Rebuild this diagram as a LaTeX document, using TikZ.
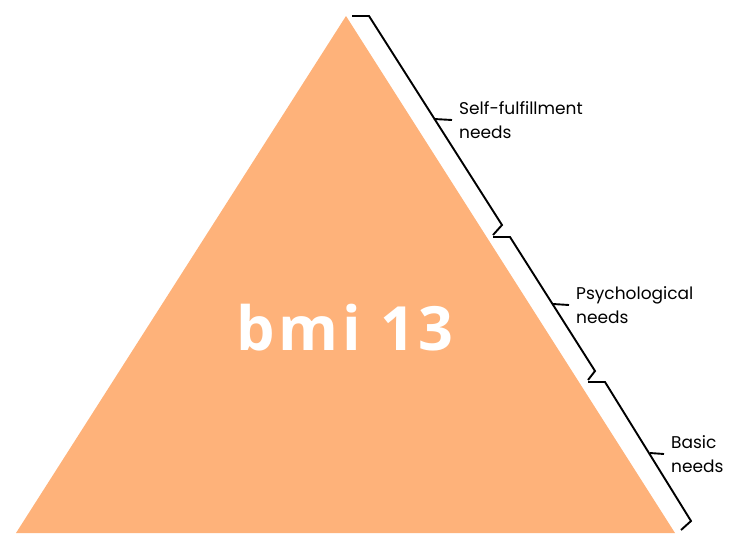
\documentclass[tikz,border=0pt]{standalone}
\usepackage{fontspec}
\setmainfont{Poppins}
\newfontfamily\bigfont[LetterSpace=6]{Open Sans}
\usetikzlibrary{positioning}
\definecolor{peach}{RGB}{254,178,122}
\tikzset{bracket/.style = {draw, line width=1.9pt, line join=miter}}
\tikzset{need/.style = {anchor=west, inner sep=0pt, align=left, font=\fontsize{17}{24}\selectfont}}
\tikzset{title/.style = {white, font=\bigfont\bfseries\fontsize{61}{61}\selectfont}}

\begin{document}
\begin{tikzpicture}[x=1pt, y=-1pt]
  \useasboundingbox (0,0) rectangle (735,547);
  \coordinate (apex) at (346,16);
  \coordinate (left) at (16,533);
  \coordinate (right) at (675,533);
  \fill [peach] (apex) -- (left) -- (right) -- cycle;
  \node [title] (bmi) at (345,328) {bmi 13};

  % top bracket
  \coordinate (a1) at (352,16);
  \coordinate (b1) at (369,16);
  \coordinate (c1) at (502,225);
  \coordinate (d1) at (493,235);
  \coordinate (m1) at (434,119);
  \node [need] (self) at (459,120) {Self-fulfillment\\needs};
  \path [bracket] (a1) -- (b1) -- (c1) -- (d1);
  \path [bracket] (m1) -- ([xshift=-7pt]self.west);

  % middle bracket
  \coordinate (a2) at (493,237);
  \coordinate (b2) at (510,237);
  \coordinate (c2) at (595,371);
  \coordinate (d2) at (588,380);
  \coordinate (m2) at (553,304);
  \node [need] (psych) at (576,305) {Psychological\\needs};
  \path [bracket] (a2) -- (b2) -- (c2) -- (d2);
  \path [bracket] (m2) -- ([xshift=-7pt]psych.west);

  % bottom bracket
  \coordinate (a3) at (588,382);
  \coordinate (b3) at (605,382);
  \coordinate (c3) at (691,521);
  \coordinate (d3) at (681,530);
  \coordinate (m3) at (650,453);
  \node [need] (basic) at (671,454) {Basic\\needs};
  \path [bracket] (a3) -- (b3) -- (c3) -- (d3);
  \path [bracket] (m3) -- ([xshift=-7pt]basic.west);
\end{tikzpicture}
\end{document}
